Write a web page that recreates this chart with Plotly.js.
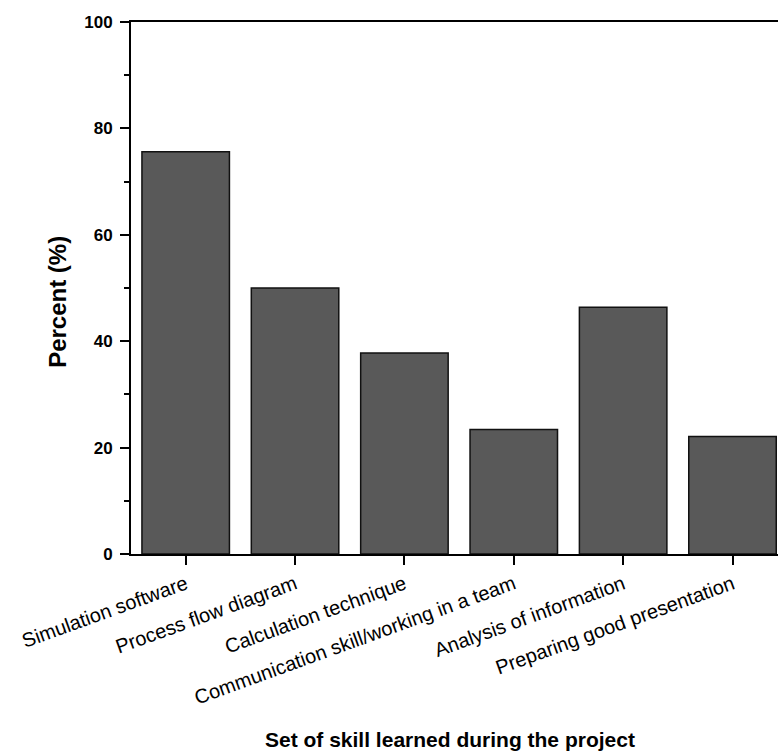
<!DOCTYPE html>
<html>
<head>
<meta charset="utf-8">
<script src="https://cdn.plot.ly/plotly-3.0.1.min.js"></script>
<style>html,body{margin:0;padding:0;background:#fff;}</style>
</head>
<body>
<div id="chart" style="width:778px;height:753px;"></div>
<script>
const categories = [
  "Simulation software",
  "Process flow diagram",
  "Calculation technique",
  "Communication skill/working in a team",
  "Analysis of information",
  "Preparing good presentation"
];
const percentValues = [75.6, 50.0, 37.8, 23.4, 46.4, 22.1];
const yTickValues = [0, 20, 40, 60, 80, 100];
const xTitle = 'Set of skill learned during the project';
const yTitle = 'Percent (%)';

const trace = {
  type: 'bar',
  x: categories,
  y: percentValues,
  marker: {color: '#595959', line: {color: '#111111', width: 1.5}},
  hoverinfo: 'none'
};

const layout = {
  width: 778,
  height: 753,
  margin: {l: 131, r: 0, t: 22, b: 199},
  paper_bgcolor: '#ffffff',
  plot_bgcolor: '#ffffff',
  showlegend: false,
  bargap: 0.2,
  font: {family: 'Liberation Sans, Arial, sans-serif', color: '#000'},
  xaxis: {
    type: 'category',
    range: [-0.5, 5.416],
    showline: true, linecolor: '#000', linewidth: 2,
    mirror: true,
    ticks: 'outside', ticklen: 9, tickwidth: 2, tickcolor: '#000',
    tickangle: -20,
    tickfont: {size: 20, family: 'Liberation Sans, Arial, sans-serif'},
    showgrid: false, zeroline: false,
    automargin: false
  },
  yaxis: {
    range: [0, 100],
    tickvals: yTickValues,
    ticktext: yTickValues.map(v => '<b>' + v + '</b>'),
    showline: true, linecolor: '#000', linewidth: 2,
    ticks: 'outside', ticklen: 9, tickwidth: 2, tickcolor: '#000',
    ticklabelstandoff: 4,
    minor: {dtick: 10, tick0: 0, ticks: 'outside', ticklen: 5, tickwidth: 2, tickcolor: '#000'},
    tickfont: {size: 17},
    showgrid: false, zeroline: false,
    automargin: false
  },
  annotations: [
    {text: '<b>' + xTitle + '</b>', xref: 'paper', yref: 'paper', x: 0.493, y: -0.3496,
     xanchor: 'center', yanchor: 'middle', showarrow: false, font: {size: 21}},
    {text: '<b>' + yTitle + '</b>', xref: 'paper', yref: 'paper', x: -0.1128, y: 0.474,
     xanchor: 'center', yanchor: 'middle', textangle: -90, showarrow: false, font: {size: 24}}
  ]
};

Plotly.newPlot('chart', [trace], layout, {displayModeBar: false, staticPlot: true});
</script>
</body>
</html>
